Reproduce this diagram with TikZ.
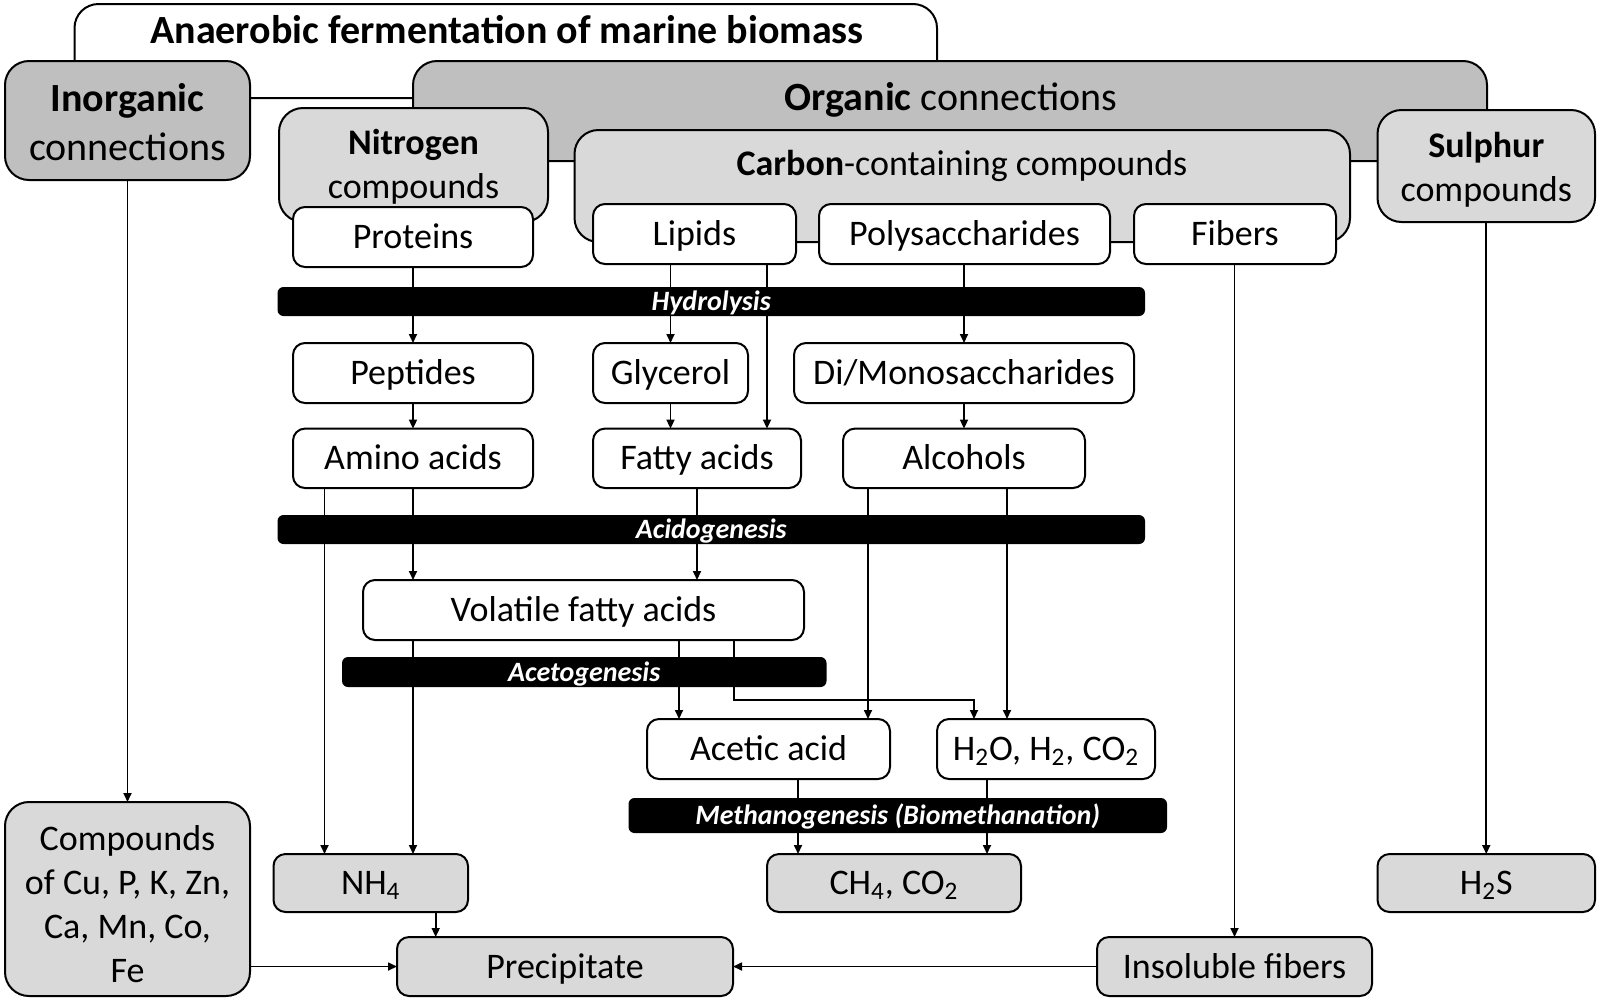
\documentclass[tikz,border=0pt]{standalone}
\usepackage{fontspec}
\setmainfont{Carlito}
\usetikzlibrary{arrows.meta}
\definecolor{dgray}{HTML}{BFBFBF}
\definecolor{lgray}{HTML}{D9D9D9}
\begin{document}
\begin{tikzpicture}[x=0.5pt,y=-0.5pt,
  rect/.style n args={4}{at={({(#1+#3)/2},{(#2+#4)/2})}, anchor=center,
    minimum width={(#3-#1)*0.5pt}, minimum height={(#4-#2)*0.5pt}},
  base/.style={draw, line width=1pt, inner sep=0pt, outer sep=0pt, align=center,
    font=\fontsize{18}{22}\selectfont, text height=11.6pt, text depth=0pt},
  wbox/.style={base, fill=white, rounded corners=6pt},
  gbox/.style={base, fill=lgray, rounded corners=6pt},
  bigbox/.style={base, rounded corners=12pt},
  twoline/.style={text height=33.6pt, text depth=0pt},
  txt/.style={inner sep=0pt, text height=11.6pt, text depth=0pt, font=\fontsize{18}{22}\selectfont},
  bigtxt/.style={txt, text height=12.9pt, font=\fontsize{20}{24.5}\selectfont},
  bar/.style={fill=black, draw=none, rounded corners=3pt, inner sep=0pt, outer sep=0pt, text=white,
    font=\fontsize{14}{16}\selectfont\bfseries\itshape, text height=9pt, text depth=0pt},
  arr/.style={line width=0.85pt, -{Triangle[length=4.5pt,width=4pt]}},
]
\useasboundingbox (0,0) rectangle (1600,1002);

% title and main categories
\node[bigbox, fill=white, rect={74.5}{4}{937}{98}] (title) {};
\node[bigtxt, font=\fontsize{20}{24.5}\selectfont\bfseries] (titletext) at (507,31) {Anaerobic fermentation of marine biomass};
\node[bigbox, fill=dgray, rect={5}{61}{250}{180}, font=\fontsize{20}{24.5}\selectfont, text height=40.4pt, text depth=0pt] (inorg) {\textbf{Inorganic}\\connections};
\node[bigbox, fill=dgray, rect={413}{61}{1487}{161}] (organic) {};
\node[bigtxt] (organictext) at (951,98) {\textbf{Organic} connections};

% sub categories
\node[bigbox, fill=lgray, rect={279}{108}{548}{222}, twoline] (nitrogen) {\textbf{Nitrogen}\\compounds};
\node[bigbox, fill=lgray, rect={574.5}{130}{1350}{242}] (carbon) {};
\node[txt] (carbontext) at (962,164) {\textbf{Carbon}-containing compounds};
\node[bigbox, fill=lgray, rect={1377.5}{110}{1595}{222}, twoline, text height=35.6pt] (sulphur) {\textbf{Sulphur}\\compounds};

% substrates
\node[wbox, rect={293}{207}{533}{267}] (proteins) {Proteins};
\node[wbox, rect={593}{204}{796}{264}] (lipids) {Lipids};
\node[wbox, rect={819}{204}{1110}{264}] (polys) {Polysaccharides};
\node[wbox, rect={1134}{204}{1336}{264}] (fibers) {Fibers};

% intermediates
\node[wbox, rect={293}{343}{533}{403}] (peptides) {Peptides};
\node[wbox, rect={593}{343}{748}{403}] (glycerol) {Glycerol};
\node[wbox, rect={794}{343}{1134}{403}] (dimono) {Di/Monosaccharides};
\node[wbox, rect={293}{428.6}{533}{488}] (amino) {Amino acids};
\node[wbox, rect={593}{428.6}{801}{488}] (fatty) {Fatty acids};
\node[wbox, rect={843}{428.6}{1085}{488}] (alcohols) {Alcohols};
\node[wbox, rect={363}{580}{804}{640}] (vfa) {Volatile fatty acids};
\node[wbox, rect={647}{719}{890}{779}] (acetic) {Acetic acid};
\node[wbox, rect={937}{719}{1155}{779}] (h2o) {H\textsubscript{2}O, H\textsubscript{2}, CO\textsubscript{2}};

% products
\node[gbox, rect={767}{854}{1021}{912}] (ch4) {CH\textsubscript{4}, CO\textsubscript{2}};
\node[gbox, rect={273.5}{854}{468}{912}] (nh4) {NH\textsubscript{4}};
\node[bigbox, fill=lgray, rect={5}{802}{250}{996}, text height=83.6pt, text depth=0pt] (comp) {Compounds\\of Cu, P, K, Zn,\\Ca, Mn, Co,\\Fe};
\node[gbox, rect={397}{937}{733}{996}] (precip) {Precipitate};
\node[gbox, rect={1097}{937}{1372}{996}] (insol) {Insoluble fibers};
\node[gbox, rect={1377.5}{854}{1595}{912}] (h2s) {H\textsubscript{2}S};

% connectors
\draw[arr] (inorg.south) -- (comp.north);
\draw[arr] (proteins.south) -- (peptides.north);
\draw[arr] (glycerol.north |- lipids.south) -- (glycerol.north);
\draw[arr] (767,0 |- lipids.south) -- (767,0 |- fatty.north);
\draw[arr] (dimono.north |- polys.south) -- (dimono.north);
\draw[arr] (peptides.south) -- (amino.north);
\draw[arr] (glycerol.south) -- (glycerol.south |- fatty.north);
\draw[arr] (dimono.south) -- (dimono.south |- alcohols.north);
\draw[arr] (324.5,0 |- amino.south) -- (324.5,0 |- nh4.north);
\draw[arr] (amino.south) -- (amino.south |- vfa.north);
\draw[arr] (fatty.south) -- (fatty.south |- vfa.north);
\draw[arr] (868,0 |- alcohols.south) -- (868,0 |- acetic.north);
\draw[arr] (1007,0 |- alcohols.south) -- (1007,0 |- h2o.north);
\draw[arr] (413,0 |- vfa.south) -- (413,0 |- nh4.north);
\draw[arr] (679,0 |- vfa.south) -- (679,0 |- acetic.north);
\draw[arr] (734,0 |- vfa.south) -- (734,700) -| (974,0 |- h2o.north);
\draw[arr] (798,0 |- acetic.south) -- (798,0 |- ch4.north);
\draw[arr] (987,0 |- h2o.south) -- (987,0 |- ch4.north);
\draw[arr] (435.7,0 |- nh4.south) -- (435.7,0 |- precip.north);
\draw[arr] (comp.east |- precip.west) -- (precip.west);
\draw[arr] (insol.west) -- (precip.east);
\draw[arr] (insol.north |- fibers.south) -- (insol.north);
\draw[arr] (sulphur.south) -- (h2s.north);

% process bars
\node[bar, rect={277.5}{287}{1145}{316}] (hydro) {Hydrolysis};
\node[bar, rect={277.5}{515}{1145}{544}] (acido) {Acidogenesis};
\node[bar, rect={342}{657}{826.5}{687}] (aceto) {Acetogenesis};
\node[bar, rect={628.5}{798}{1167}{833}] (metha) {Methanogenesis (Biomethanation)};
\end{tikzpicture}
\end{document}
